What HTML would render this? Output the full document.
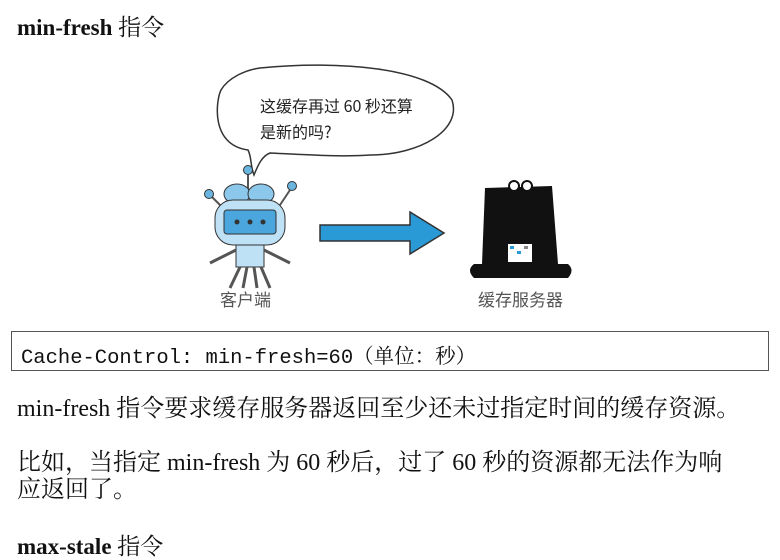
<!DOCTYPE html>
<html><head><meta charset="utf-8"><style>
body{margin:0;width:780px;height:552px;background:#fff;overflow:hidden;position:relative;font-family:"Liberation Serif","Noto Serif CJK SC",serif;color:#111}
.t{position:absolute;white-space:nowrap;font-size:24px;line-height:27px}
.b{font-weight:bold}
.code{position:absolute;left:11px;top:331px;width:756px;height:38px;border:1px solid #555;box-sizing:content-box}
.code span{position:absolute;left:9px;top:7px;font-family:"Liberation Mono","Noto Sans CJK SC",monospace;font-size:20.5px;white-space:nowrap}
.code .cj{font-family:"Liberation Serif","Noto Serif CJK SC",serif}
</style></head><body>
<div class="t" style="left:17px;top:14px;font-size:23px"><span class="b">min-fresh</span> 指令</div>

<svg style="position:absolute;left:190px;top:60px" width="400" height="260" viewBox="0 0 400 260">
  <path d="M70 8 C150 0 240 8 262 40 C272 70 230 95 180 95 C150 97 120 95 80 93 C72 96 68 105 64 115 C60 105 62 98 58 90 C20 85 26 40 31 30 C38 18 55 10 70 8 Z" fill="#fff" stroke="#333" stroke-width="1.5"/>
  <text x="70" y="52" font-family="Noto Sans CJK SC,sans-serif" font-size="16" fill="#222">这缓存再过 60 秒还算</text>
  <text x="70" y="78" font-family="Noto Sans CJK SC,sans-serif" font-size="16" fill="#222">是新的吗?</text>
  <!-- robot -->
  <line x1="58" y1="112" x2="58" y2="135" stroke="#555" stroke-width="2"/>
  <circle cx="58" cy="110" r="4.5" fill="#6ab4e0" stroke="#333"/>
  <line x1="22" y1="137" x2="35" y2="150" stroke="#555" stroke-width="2"/>
  <circle cx="19" cy="134" r="4.5" fill="#6ab4e0" stroke="#333"/>
  <line x1="100" y1="130" x2="88" y2="148" stroke="#555" stroke-width="2"/>
  <circle cx="102" cy="126" r="4.5" fill="#6ab4e0" stroke="#333"/>
  <ellipse cx="47" cy="134" rx="13" ry="10" fill="#8cc8ec" stroke="#333"/>
  <ellipse cx="71" cy="134" rx="13" ry="10" fill="#8cc8ec" stroke="#333"/>
  <rect x="25" y="140" width="70" height="45" rx="18" fill="#bfe1f5" stroke="#333"/>
  <rect x="34" y="150" width="52" height="24" rx="3" fill="#4aa6dc" stroke="#333"/>
  <circle cx="47" cy="162" r="2.5" fill="#333"/><circle cx="60" cy="162" r="2.5" fill="#333"/><circle cx="73" cy="162" r="2.5" fill="#333"/>
  <rect x="46" y="185" width="28" height="22" fill="#bfe1f5" stroke="#333"/>
  <path d="M46 190 L20 203 M74 190 L100 203 M50 207 L40 228 M57 207 L53 228 M64 207 L67 228 M71 207 L80 228" stroke="#555" stroke-width="3" fill="none"/>
  <!-- arrow -->
  <path d="M130 165 L220 165 L220 152 L254 173 L220 194 L220 181 L130 181 Z" fill="#2a9ad6" stroke="#333" stroke-width="1.5"/>
  <!-- hat -->
  <path d="M295 128 L362 126 L368 204 L378 204 Q385 210 378 218 L284 218 Q276 210 284 204 L292 204 Z" fill="#111"/>
  <circle cx="324" cy="126" r="5" fill="#fff" stroke="#111" stroke-width="2"/><circle cx="337" cy="126" r="5" fill="#fff" stroke="#111" stroke-width="2"/>
  <rect x="318" y="184" width="24" height="18" fill="#fff"/>
  <rect x="320" y="186" width="4" height="3" fill="#2a9ad6"/><rect x="327" y="191" width="4" height="3" fill="#2a9ad6"/><rect x="334" y="186" width="4" height="3" fill="#888"/>
  <text x="30" y="246" font-family="Noto Sans CJK SC,sans-serif" font-size="17" fill="#555">客户端</text>
  <text x="288" y="246" font-family="Noto Sans CJK SC,sans-serif" font-size="17" fill="#555">缓存服务器</text>
</svg>

<div class="code"><span>Cache-Control: min-fresh=60<span class="cj" style="position:static">（单位：秒）</span></span></div>

<div class="t" style="left:17px;top:396px">min-fresh 指令要求缓存服务器返回至少还未过指定时间的缓存资源。</div>
<div class="t" style="left:17px;top:450px">比如，当指定 min-fresh 为 60 秒后，过了 60 秒的资源都无法作为响</div>
<div class="t" style="left:17px;top:477px">应返回了。</div>
<div class="t" style="left:17px;top:533px;font-size:23px"><span class="b">max-stale</span> 指令</div>
</body></html>
